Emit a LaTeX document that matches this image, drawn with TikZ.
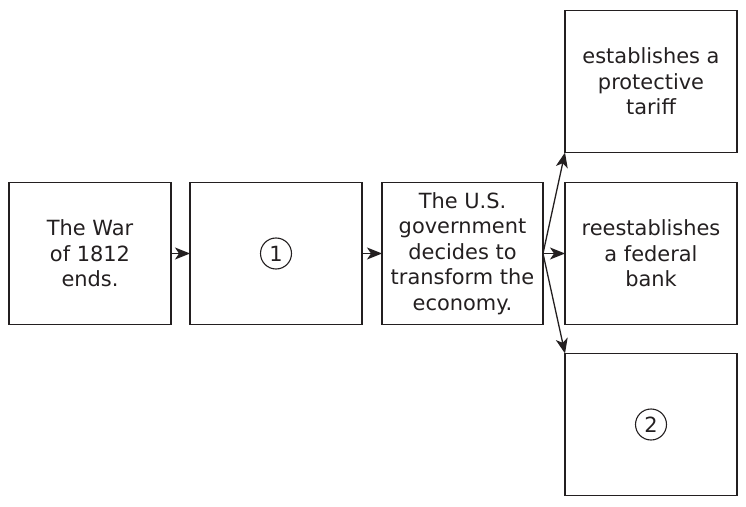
\documentclass[tikz,border=0pt]{standalone}
\usepackage{fontspec}
\setmainfont{DejaVu Sans}
\usetikzlibrary{positioning, arrows.meta}
\definecolor{ink}{RGB}{35, 31, 32}

\begin{document}
\begin{tikzpicture}[x=1bp, y=1bp,
    box/.style={draw=ink, line width=1.3bp, rectangle, align=center, text=ink, inner sep=0pt, outer sep=0pt,
        minimum width=172bp, minimum height=142bp, font=\fontsize{21}{25.5}\selectfont},
    num/.style={draw=ink, line width=1.1bp, circle, inner sep=0pt, minimum size=31bp, text=ink,
        font=\fontsize{21}{25.5}\selectfont},
    arrow/.style={-{Stealth[length=15bp, width=12bp, inset=4bp]}, line width=1.3bp, draw=ink}]
\useasboundingbox (0,0) rectangle (746,-507);
\node[box, minimum width=162bp] (war) at (90,-253.5) {The War\\of 1812\\ends.};
\node[box, right = 19bp of war] (gap1) {};
\node[box, minimum width=161bp, right = 20bp of gap1] (gov) {The U.S.\\government\\decides to\\transform the\\economy.};
\node[box, right = 22bp of gov] (bank) {reestablishes\\a federal\\bank};
\node[box, above = 30bp of bank] (tariff) {establishes a\\protective\\tariff};
\node[box, below = 29bp of bank] (gap2) {};
\node[num] (n1) at (gap1) {1};
\node[num] (n2) at (gap2) {2};

\draw[arrow] (war) -- (gap1);
\draw[arrow] (gap1) -- (gov);
\draw[arrow] (gov) -- (bank);
\draw[arrow] (gov.east) -- (tariff.south west);
\draw[arrow] (gov.east) -- (gap2.north west);
\end{tikzpicture}
\end{document}
